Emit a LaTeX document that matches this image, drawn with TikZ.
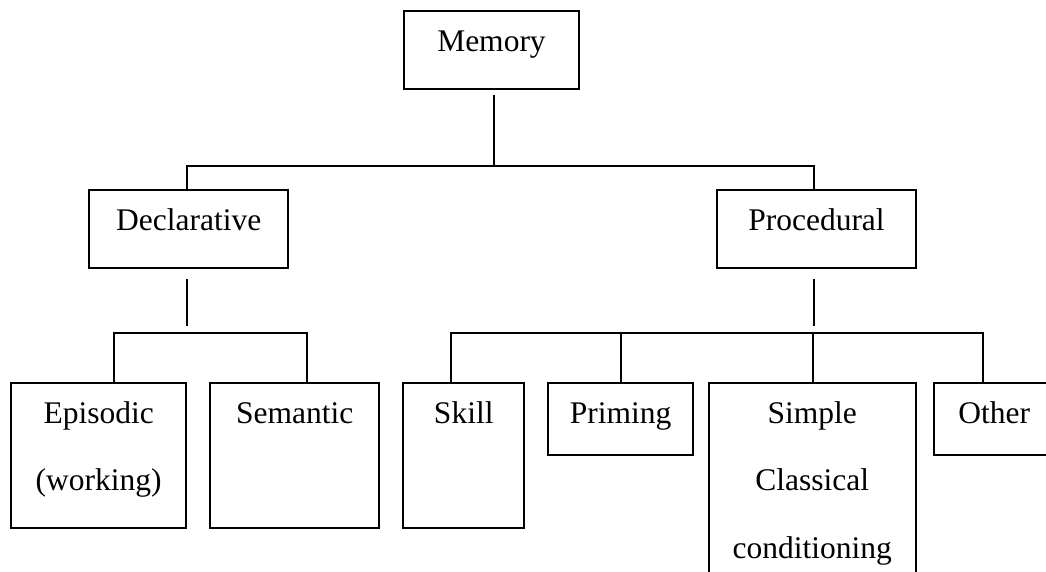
\documentclass[tikz,border=0pt]{standalone}
\usepackage{fontspec}
\setmainfont{Liberation Serif}
\usepackage{tikz}

\begin{document}
\begin{tikzpicture}[
        x=0.5pt, y=-0.5pt,
        box/.style={draw, black, line width=1pt, inner sep=0pt,
            anchor=north west, align=center,
            font={\fontsize{15.75}{33.75}\selectfont},
            text height=20.25pt},
        link/.style={black, line width=1pt},
        ]
        \useasboundingbox (0, 0) rectangle (1046, 572);

        % top level
        \node[box, text width=87.8pt, text depth=18.75pt] (memory) at (402.7, 10) {Memory};

        % second level
        \node[box, text width=99.5pt, text depth=18.75pt] (declarative) at (88.3, 189.3) {Declarative};
        \node[box, text width=99.5pt, text depth=18.6pt] (procedural) at (716, 189.3) {Procedural};

        % third level
        \node[box, text width=87.65pt, text depth=52.25pt] (episodic) at (10, 381.7) {Episodic\\(working)};
        \node[box, text width=84.65pt, text depth=52.25pt] (semantic) at (209, 381.7) {Semantic};
        \node[box, text width=60.45pt, text depth=52.25pt] (skill) at (402.3, 381.7) {Skill};
        \node[box, text width=72.6pt, text depth=15.9pt] (priming) at (547, 381.7) {Priming};
        \node[box, text width=103.75pt, text depth=99.75pt] (simple) at (707.5, 381.7) {Simple\\Classical\\conditioning};
        \node[box, text width=59.85pt, text depth=15.9pt] (other) at (933.3, 381.7) {Other};

        % bars
        \coordinate (membar) at (0, 166);
        \coordinate (declbar) at (0, 333.5);
        \coordinate (procbar) at (0, 333.5);

        % Memory fork
        \draw[link] ([xshift=1.4pt, yshift=-2.35pt]memory.south) -- ([xshift=1.4pt]memory.south |- membar);
        \draw[link] ([xshift=-1.15pt]declarative.north) |- ([xshift=-1.4pt]procedural.north |- membar)
            -- ([xshift=-1.4pt]procedural.north);

        % Declarative fork
        \draw[link] ([xshift=-1.15pt, yshift=-5pt]declarative.south)
            -- ([xshift=-1.15pt, yshift=3.75pt]declarative.south |- declbar);
        \draw[link] ([xshift=7.5pt]episodic.north) |- ([xshift=6.2pt]semantic.north |- declbar)
            -- ([xshift=6.2pt]semantic.north);

        % Procedural fork
        \draw[link] ([xshift=-1.4pt, yshift=-5pt]procedural.south)
            -- ([xshift=-1.4pt, yshift=3.8pt]procedural.south |- procbar);
        \draw[link] ([xshift=-6.4pt]skill.north) |- ([xshift=-5.7pt]other.north |- procbar)
            -- ([xshift=-5.7pt]other.north);
        \draw[link] (priming.north) -- (priming.north |- procbar);
        \draw[link] ([xshift=0.6pt]simple.north) -- ([xshift=0.6pt]simple.north |- procbar);
    \end{tikzpicture}
\end{document}
